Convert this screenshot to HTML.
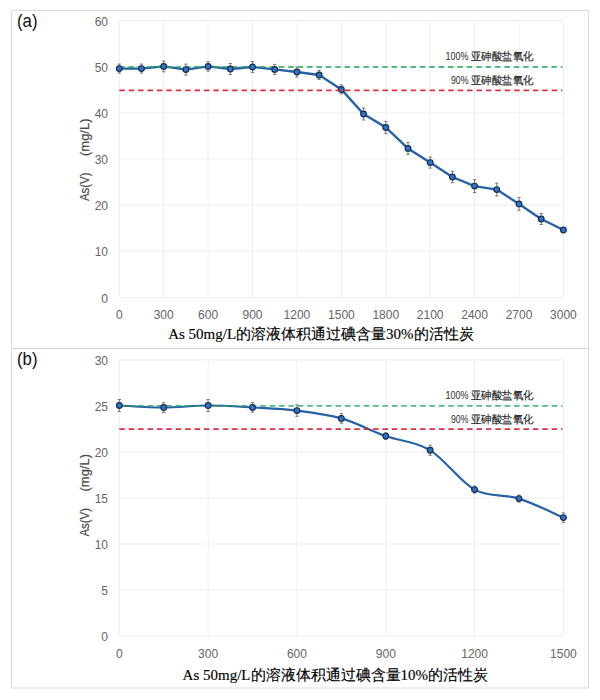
<!DOCTYPE html>
<html><head><meta charset="utf-8"><style>
html,body{margin:0;padding:0;background:#fff;width:600px;height:700px;overflow:hidden}
svg{display:block}
.tk{font-family:"Liberation Sans",sans-serif;font-size:12px;fill:#656565}
.lb{font-family:"Liberation Sans",sans-serif;font-size:10.5px;fill:#222;stroke:#222;stroke-width:0.15px}
.lbn{font-family:"Liberation Sans",sans-serif;font-size:10.8px;fill:#2a2a2a}
.yt{font-family:"Liberation Sans",sans-serif;font-size:12px;fill:#4a4a4a;stroke:#4a4a4a;stroke-width:0.2px}
.tt{font-family:"Liberation Serif",serif;font-size:15px;fill:#000;stroke:#000;stroke-width:0.15px}
.lt{font-family:"Liberation Sans",sans-serif;font-size:18px;fill:#111}
</style></head><body>
<svg width="600" height="700" viewBox="0 0 600 700">
<line x1="584.5" y1="11" x2="584.5" y2="688" stroke="#f6f6f6" stroke-width="1"/>
<rect x="11.5" y="10.5" width="577" height="677.5" fill="none" stroke="#dcdcdc" stroke-width="1"/>
<line x1="11.5" y1="348.5" x2="588.5" y2="348.5" stroke="#d6d6d6" stroke-width="1"/>
<line x1="119.3" y1="297.5" x2="563.4" y2="297.5" stroke="#efefef" stroke-width="1"/>
<text x="108" y="302.5" text-anchor="end" class="tk">0</text>
<line x1="119.3" y1="251.3" x2="563.4" y2="251.3" stroke="#efefef" stroke-width="1"/>
<text x="108" y="256.3" text-anchor="end" class="tk">10</text>
<line x1="119.3" y1="205.2" x2="563.4" y2="205.2" stroke="#efefef" stroke-width="1"/>
<text x="108" y="210.2" text-anchor="end" class="tk">20</text>
<line x1="119.3" y1="159.0" x2="563.4" y2="159.0" stroke="#efefef" stroke-width="1"/>
<text x="108" y="164.0" text-anchor="end" class="tk">30</text>
<line x1="119.3" y1="112.8" x2="563.4" y2="112.8" stroke="#efefef" stroke-width="1"/>
<text x="108" y="117.8" text-anchor="end" class="tk">40</text>
<line x1="119.3" y1="66.7" x2="563.4" y2="66.7" stroke="#efefef" stroke-width="1"/>
<text x="108" y="71.7" text-anchor="end" class="tk">50</text>
<line x1="119.3" y1="20.5" x2="563.4" y2="20.5" stroke="#efefef" stroke-width="1"/>
<text x="108" y="25.5" text-anchor="end" class="tk">60</text>
<line x1="119.3" y1="20.5" x2="119.3" y2="297.5" stroke="#efefef" stroke-width="1"/>
<text x="119.3" y="318.5" text-anchor="middle" class="tk">0</text>
<line x1="163.7" y1="20.5" x2="163.7" y2="297.5" stroke="#efefef" stroke-width="1"/>
<text x="163.7" y="318.5" text-anchor="middle" class="tk">300</text>
<line x1="208.1" y1="20.5" x2="208.1" y2="297.5" stroke="#efefef" stroke-width="1"/>
<text x="208.1" y="318.5" text-anchor="middle" class="tk">600</text>
<line x1="252.5" y1="20.5" x2="252.5" y2="297.5" stroke="#efefef" stroke-width="1"/>
<text x="252.5" y="318.5" text-anchor="middle" class="tk">900</text>
<line x1="296.9" y1="20.5" x2="296.9" y2="297.5" stroke="#efefef" stroke-width="1"/>
<text x="296.9" y="318.5" text-anchor="middle" class="tk">1200</text>
<line x1="341.4" y1="20.5" x2="341.4" y2="297.5" stroke="#efefef" stroke-width="1"/>
<text x="341.4" y="318.5" text-anchor="middle" class="tk">1500</text>
<line x1="385.8" y1="20.5" x2="385.8" y2="297.5" stroke="#efefef" stroke-width="1"/>
<text x="385.8" y="318.5" text-anchor="middle" class="tk">1800</text>
<line x1="430.2" y1="20.5" x2="430.2" y2="297.5" stroke="#efefef" stroke-width="1"/>
<text x="430.2" y="318.5" text-anchor="middle" class="tk">2100</text>
<line x1="474.6" y1="20.5" x2="474.6" y2="297.5" stroke="#efefef" stroke-width="1"/>
<text x="474.6" y="318.5" text-anchor="middle" class="tk">2400</text>
<line x1="519.0" y1="20.5" x2="519.0" y2="297.5" stroke="#efefef" stroke-width="1"/>
<text x="519.0" y="318.5" text-anchor="middle" class="tk">2700</text>
<line x1="563.4" y1="20.5" x2="563.4" y2="297.5" stroke="#efefef" stroke-width="1"/>
<text x="563.4" y="318.5" text-anchor="middle" class="tk">3000</text>
<path d="M119.3,64.1 V73.1 M117.7,64.1 H120.9 M117.7,73.1 H120.9" stroke="#787878" stroke-width="1" fill="none"/>
<path d="M141.5,64.1 V73.1 M139.9,64.1 H143.1 M139.9,73.1 H143.1" stroke="#787878" stroke-width="1" fill="none"/>
<path d="M163.7,61.0 V71.8 M162.1,61.0 H165.3 M162.1,71.8 H165.3" stroke="#787878" stroke-width="1" fill="none"/>
<path d="M185.9,64.1 V75.1 M184.3,64.1 H187.5 M184.3,75.1 H187.5" stroke="#787878" stroke-width="1" fill="none"/>
<path d="M208.1,61.7 V71.1 M206.5,61.7 H209.7 M206.5,71.1 H209.7" stroke="#787878" stroke-width="1" fill="none"/>
<path d="M230.3,63.5 V74.5 M228.7,63.5 H231.9 M228.7,74.5 H231.9" stroke="#787878" stroke-width="1" fill="none"/>
<path d="M252.5,61.5 V72.5 M250.9,61.5 H254.1 M250.9,72.5 H254.1" stroke="#787878" stroke-width="1" fill="none"/>
<path d="M274.7,64.4 V74.4 M273.1,64.4 H276.3 M273.1,74.4 H276.3" stroke="#787878" stroke-width="1" fill="none"/>
<path d="M296.9,67.0 V77.0 M295.3,67.0 H298.5 M295.3,77.0 H298.5" stroke="#787878" stroke-width="1" fill="none"/>
<path d="M319.1,70.5 V79.5 M317.5,70.5 H320.7 M317.5,79.5 H320.7" stroke="#787878" stroke-width="1" fill="none"/>
<path d="M341.4,84.9 V93.9 M339.8,84.9 H343.0 M339.8,93.9 H343.0" stroke="#787878" stroke-width="1" fill="none"/>
<path d="M363.6,108.0 V120.0 M362.0,108.0 H365.2 M362.0,120.0 H365.2" stroke="#787878" stroke-width="1" fill="none"/>
<path d="M385.8,121.4 V133.4 M384.2,121.4 H387.4 M384.2,133.4 H387.4" stroke="#787878" stroke-width="1" fill="none"/>
<path d="M408.0,142.4 V154.4 M406.4,142.4 H409.6 M406.4,154.4 H409.6" stroke="#787878" stroke-width="1" fill="none"/>
<path d="M430.2,157.1 V168.1 M428.6,157.1 H431.8 M428.6,168.1 H431.8" stroke="#787878" stroke-width="1" fill="none"/>
<path d="M452.4,171.3 V182.7 M450.8,171.3 H454.0 M450.8,182.7 H454.0" stroke="#787878" stroke-width="1" fill="none"/>
<path d="M474.6,179.7 V192.5 M473.0,179.7 H476.2 M473.0,192.5 H476.2" stroke="#787878" stroke-width="1" fill="none"/>
<path d="M496.8,183.2 V196.0 M495.2,183.2 H498.4 M495.2,196.0 H498.4" stroke="#787878" stroke-width="1" fill="none"/>
<path d="M519.0,197.5 V210.3 M517.4,197.5 H520.6 M517.4,210.3 H520.6" stroke="#787878" stroke-width="1" fill="none"/>
<path d="M541.2,213.5 V224.5 M539.6,213.5 H542.8 M539.6,224.5 H542.8" stroke="#787878" stroke-width="1" fill="none"/>
<path d="M119.30,68.60 L141.50,68.60 L163.71,66.40 L185.91,69.60 L208.12,66.40 L230.32,69.00 L252.53,67.00 L274.73,69.40 L296.94,72.00 L319.14,75.00 L341.35,89.40 L363.56,114.00 L385.76,127.40 L407.96,148.40 L430.17,162.60 L452.38,177.00 L474.58,186.10 L496.79,189.60 L518.99,203.90 L541.19,219.00 L563.40,230.00" stroke="#2862a6" stroke-width="2.40" fill="none" stroke-linejoin="round" stroke-linecap="round"/>
<line x1="119.0" y1="67.0" x2="562.4" y2="67.0" stroke="#1ea55c" stroke-width="1.8" stroke-dasharray="5.5 3.9" opacity="0.75"/>
<circle cx="119.30" cy="68.60" r="2.85" fill="#3274c0" stroke="#172d55" stroke-width="1.2"/>
<circle cx="141.50" cy="68.60" r="2.85" fill="#3274c0" stroke="#172d55" stroke-width="1.2"/>
<circle cx="163.71" cy="66.40" r="2.85" fill="#3274c0" stroke="#172d55" stroke-width="1.2"/>
<circle cx="185.91" cy="69.60" r="2.85" fill="#3274c0" stroke="#172d55" stroke-width="1.2"/>
<circle cx="208.12" cy="66.40" r="2.85" fill="#3274c0" stroke="#172d55" stroke-width="1.2"/>
<circle cx="230.32" cy="69.00" r="2.85" fill="#3274c0" stroke="#172d55" stroke-width="1.2"/>
<circle cx="252.53" cy="67.00" r="2.85" fill="#3274c0" stroke="#172d55" stroke-width="1.2"/>
<circle cx="274.73" cy="69.40" r="2.85" fill="#3274c0" stroke="#172d55" stroke-width="1.2"/>
<circle cx="296.94" cy="72.00" r="2.85" fill="#3274c0" stroke="#172d55" stroke-width="1.2"/>
<circle cx="319.14" cy="75.00" r="2.85" fill="#3274c0" stroke="#172d55" stroke-width="1.2"/>
<circle cx="341.35" cy="89.40" r="2.85" fill="#3274c0" stroke="#172d55" stroke-width="1.2"/>
<circle cx="363.56" cy="114.00" r="2.85" fill="#3274c0" stroke="#172d55" stroke-width="1.2"/>
<circle cx="385.76" cy="127.40" r="2.85" fill="#3274c0" stroke="#172d55" stroke-width="1.2"/>
<circle cx="407.96" cy="148.40" r="2.85" fill="#3274c0" stroke="#172d55" stroke-width="1.2"/>
<circle cx="430.17" cy="162.60" r="2.85" fill="#3274c0" stroke="#172d55" stroke-width="1.2"/>
<circle cx="452.38" cy="177.00" r="2.85" fill="#3274c0" stroke="#172d55" stroke-width="1.2"/>
<circle cx="474.58" cy="186.10" r="2.85" fill="#3274c0" stroke="#172d55" stroke-width="1.2"/>
<circle cx="496.79" cy="189.60" r="2.85" fill="#3274c0" stroke="#172d55" stroke-width="1.2"/>
<circle cx="518.99" cy="203.90" r="2.85" fill="#3274c0" stroke="#172d55" stroke-width="1.2"/>
<circle cx="541.19" cy="219.00" r="2.85" fill="#3274c0" stroke="#172d55" stroke-width="1.2"/>
<circle cx="563.40" cy="230.00" r="2.85" fill="#3274c0" stroke="#172d55" stroke-width="1.2"/>
<line x1="119.3" y1="90.3" x2="562.4" y2="90.3" stroke="#dc1f30" stroke-width="1.8" stroke-dasharray="5.5 3.9" opacity="0.92"/>
<text x="445.5" y="60.0" class="lbn" textLength="23" lengthAdjust="spacingAndGlyphs">100%</text>
<text x="470.8" y="60.0" class="lb" textLength="63" lengthAdjust="spacingAndGlyphs">亚砷酸盐氧化</text>
<text x="451" y="83.8" class="lbn" textLength="17.5" lengthAdjust="spacingAndGlyphs">90%</text>
<text x="470.8" y="83.8" class="lb" textLength="63" lengthAdjust="spacingAndGlyphs">亚砷酸盐氧化</text>
<text transform="translate(88.5,201.0) rotate(-90)" class="yt" textLength="28.5" lengthAdjust="spacingAndGlyphs">As(V)</text>
<text transform="translate(88.5,156.0) rotate(-90)" class="yt" textLength="37.5" lengthAdjust="spacingAndGlyphs">(mg/L)</text>
<text x="168.2" y="338.5" class="tt">As 50mg/L的溶液体积通过碘含量30%的活性炭</text>
<text x="17" y="27.0" class="lt" textLength="20.5" lengthAdjust="spacingAndGlyphs">(a)</text>
<line x1="119.3" y1="636.0" x2="563.4" y2="636.0" stroke="#efefef" stroke-width="1"/>
<text x="108" y="641.0" text-anchor="end" class="tk">0</text>
<line x1="119.3" y1="590.0" x2="563.4" y2="590.0" stroke="#efefef" stroke-width="1"/>
<text x="108" y="595.0" text-anchor="end" class="tk">5</text>
<line x1="119.3" y1="544.0" x2="563.4" y2="544.0" stroke="#efefef" stroke-width="1"/>
<text x="108" y="549.0" text-anchor="end" class="tk">10</text>
<line x1="119.3" y1="498.0" x2="563.4" y2="498.0" stroke="#efefef" stroke-width="1"/>
<text x="108" y="503.0" text-anchor="end" class="tk">15</text>
<line x1="119.3" y1="452.0" x2="563.4" y2="452.0" stroke="#efefef" stroke-width="1"/>
<text x="108" y="457.0" text-anchor="end" class="tk">20</text>
<line x1="119.3" y1="406.0" x2="563.4" y2="406.0" stroke="#efefef" stroke-width="1"/>
<text x="108" y="411.0" text-anchor="end" class="tk">25</text>
<line x1="119.3" y1="360.0" x2="563.4" y2="360.0" stroke="#efefef" stroke-width="1"/>
<text x="108" y="365.0" text-anchor="end" class="tk">30</text>
<line x1="119.3" y1="360.0" x2="119.3" y2="636.0" stroke="#efefef" stroke-width="1"/>
<text x="119.3" y="658.0" text-anchor="middle" class="tk">0</text>
<line x1="208.1" y1="360.0" x2="208.1" y2="636.0" stroke="#efefef" stroke-width="1"/>
<text x="208.1" y="658.0" text-anchor="middle" class="tk">300</text>
<line x1="296.9" y1="360.0" x2="296.9" y2="636.0" stroke="#efefef" stroke-width="1"/>
<text x="296.9" y="658.0" text-anchor="middle" class="tk">600</text>
<line x1="385.8" y1="360.0" x2="385.8" y2="636.0" stroke="#efefef" stroke-width="1"/>
<text x="385.8" y="658.0" text-anchor="middle" class="tk">900</text>
<line x1="474.6" y1="360.0" x2="474.6" y2="636.0" stroke="#efefef" stroke-width="1"/>
<text x="474.6" y="658.0" text-anchor="middle" class="tk">1200</text>
<line x1="563.4" y1="360.0" x2="563.4" y2="636.0" stroke="#efefef" stroke-width="1"/>
<text x="563.4" y="658.0" text-anchor="middle" class="tk">1500</text>
<path d="M119.3,399.5 V411.5 M117.7,399.5 H120.9 M117.7,411.5 H120.9" stroke="#787878" stroke-width="1" fill="none"/>
<path d="M163.7,402.7 V412.3 M162.1,402.7 H165.3 M162.1,412.3 H165.3" stroke="#787878" stroke-width="1" fill="none"/>
<path d="M208.1,399.5 V411.5 M206.5,399.5 H209.7 M206.5,411.5 H209.7" stroke="#787878" stroke-width="1" fill="none"/>
<path d="M252.5,402.7 V412.1 M250.9,402.7 H254.1 M250.9,412.1 H254.1" stroke="#787878" stroke-width="1" fill="none"/>
<path d="M296.9,404.9 V416.3 M295.3,404.9 H298.5 M295.3,416.3 H298.5" stroke="#787878" stroke-width="1" fill="none"/>
<path d="M341.4,413.6 V423.2 M339.8,413.6 H343.0 M339.8,423.2 H343.0" stroke="#787878" stroke-width="1" fill="none"/>
<path d="M385.8,432.8 V439.4 M384.2,432.8 H387.4 M384.2,439.4 H387.4" stroke="#787878" stroke-width="1" fill="none"/>
<path d="M430.2,445.3 V455.3 M428.6,445.3 H431.8 M428.6,455.3 H431.8" stroke="#787878" stroke-width="1" fill="none"/>
<path d="M474.6,486.1 V493.1 M473.0,486.1 H476.2 M473.0,493.1 H476.2" stroke="#787878" stroke-width="1" fill="none"/>
<path d="M519.0,495.1 V502.1 M517.4,495.1 H520.6 M517.4,502.1 H520.6" stroke="#787878" stroke-width="1" fill="none"/>
<path d="M563.4,512.9 V522.3 M561.8,512.9 H565.0 M561.8,522.3 H565.0" stroke="#787878" stroke-width="1" fill="none"/>
<path d="M119.30,405.50 C126.70,405.83 148.91,407.50 163.71,407.50 C178.51,407.50 193.32,405.52 208.12,405.50 C222.92,405.48 237.73,406.55 252.53,407.40 C267.33,408.25 282.14,408.77 296.94,410.60 C311.74,412.43 326.55,414.15 341.35,418.40 C356.15,422.65 370.96,430.78 385.76,436.10 C400.56,441.42 415.37,441.38 430.17,450.30 C444.97,459.22 459.78,481.55 474.58,489.60 C489.38,497.65 504.19,493.93 518.99,498.60 C533.79,503.27 556.00,514.43 563.40,517.60" stroke="#2862a6" stroke-width="2.15" fill="none" stroke-linejoin="round" stroke-linecap="round"/>
<line x1="119.3" y1="405.8" x2="562.4" y2="405.8" stroke="#1ea55c" stroke-width="1.8" stroke-dasharray="5.5 3.9" opacity="0.75"/>
<circle cx="119.30" cy="405.50" r="2.85" fill="#3274c0" stroke="#172d55" stroke-width="1.2"/>
<circle cx="163.71" cy="407.50" r="2.85" fill="#3274c0" stroke="#172d55" stroke-width="1.2"/>
<circle cx="208.12" cy="405.50" r="2.85" fill="#3274c0" stroke="#172d55" stroke-width="1.2"/>
<circle cx="252.53" cy="407.40" r="2.85" fill="#3274c0" stroke="#172d55" stroke-width="1.2"/>
<circle cx="296.94" cy="410.60" r="2.85" fill="#3274c0" stroke="#172d55" stroke-width="1.2"/>
<circle cx="341.35" cy="418.40" r="2.85" fill="#3274c0" stroke="#172d55" stroke-width="1.2"/>
<circle cx="385.76" cy="436.10" r="2.85" fill="#3274c0" stroke="#172d55" stroke-width="1.2"/>
<circle cx="430.17" cy="450.30" r="2.85" fill="#3274c0" stroke="#172d55" stroke-width="1.2"/>
<circle cx="474.58" cy="489.60" r="2.85" fill="#3274c0" stroke="#172d55" stroke-width="1.2"/>
<circle cx="518.99" cy="498.60" r="2.85" fill="#3274c0" stroke="#172d55" stroke-width="1.2"/>
<circle cx="563.40" cy="517.60" r="2.85" fill="#3274c0" stroke="#172d55" stroke-width="1.2"/>
<line x1="119.3" y1="429.2" x2="562.4" y2="429.2" stroke="#dc1f30" stroke-width="1.8" stroke-dasharray="5.5 3.9" opacity="0.92"/>
<text x="445.5" y="398.8" class="lbn" textLength="23" lengthAdjust="spacingAndGlyphs">100%</text>
<text x="470.8" y="398.8" class="lb" textLength="63" lengthAdjust="spacingAndGlyphs">亚砷酸盐氧化</text>
<text x="451" y="422.7" class="lbn" textLength="17.5" lengthAdjust="spacingAndGlyphs">90%</text>
<text x="470.8" y="422.7" class="lb" textLength="63" lengthAdjust="spacingAndGlyphs">亚砷酸盐氧化</text>
<text transform="translate(88.5,536.5) rotate(-90)" class="yt" textLength="28.5" lengthAdjust="spacingAndGlyphs">As(V)</text>
<text transform="translate(88.5,491.5) rotate(-90)" class="yt" textLength="37.5" lengthAdjust="spacingAndGlyphs">(mg/L)</text>
<text x="182.6" y="680.0" class="tt">As 50mg/L的溶液体积通过碘含量10%的活性炭</text>
<text x="17" y="365.0" class="lt" textLength="20.5" lengthAdjust="spacingAndGlyphs">(b)</text>
</svg>
</body></html>
